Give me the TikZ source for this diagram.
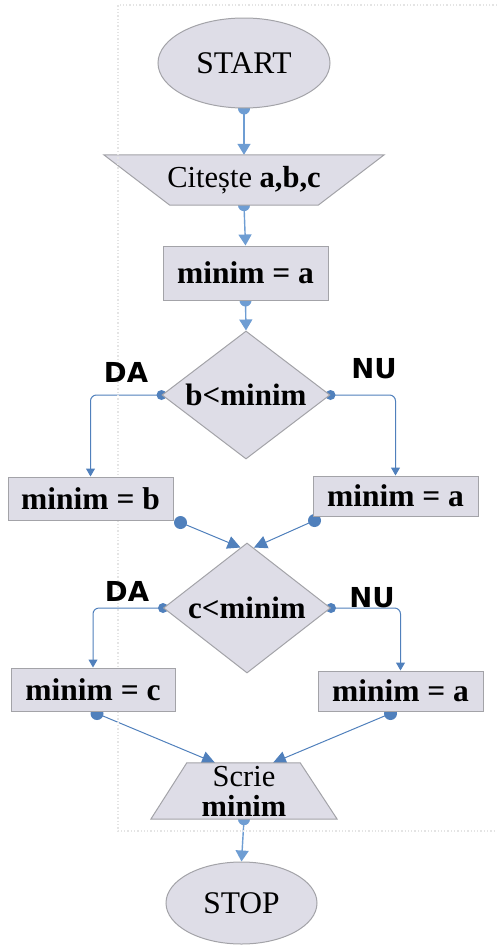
\documentclass[tikz,border=0pt]{standalone}
\usepackage{fontspec}
\setmainfont{Liberation Serif}
\newfontfamily\lblfont{DejaVu Sans}
\usetikzlibrary{shapes.geometric,arrows.meta,calc}
\pgfdeclarelayer{bg}
\pgfdeclarelayer{mid}
\pgfsetlayers{bg,mid,main}
\definecolor{nodefill}{HTML}{DEDDE7}
\definecolor{nodeline}{HTML}{A3A3A8}
\definecolor{conn}{HTML}{6E9DD3}
\definecolor{connside}{HTML}{5080BC}
\definecolor{pageborder}{HTML}{E4E4E4}
\begin{document}
\begin{tikzpicture}[x=1pt,y=-1pt,
  shapebase/.style={draw=nodeline,fill=nodefill,line width=1pt,inner sep=0pt},
  boxnode/.style={shapebase,rectangle,font=\fontsize{31.5}{34}\selectfont\bfseries},
  ovalnode/.style={shapebase,ellipse,font=\fontsize{31.5}{34}\selectfont},
  decnode/.style={shapebase,diamond},
  dectext/.style={inner sep=0pt,font=\fontsize{31}{34}\selectfont\bfseries},
  textonly/.style={inner sep=0pt,font=\fontsize{30.5}{33}\selectfont},
  trapfill/.style={draw=nodeline,fill=nodefill,line width=1pt},
  vconn/.style={draw=conn,line width=1.4pt,-{Triangle[length=11pt,width=13pt]}},
  sideconn/.style={draw=connside,line width=1pt,rounded corners=6pt,-{Triangle[length=8pt,width=9pt]}},
  diagconn/.style={draw=connside,line width=1pt,-{Triangle[length=13pt,width=13pt]}},
  lbl/.style={font=\lblfont\bfseries\fontsize{27.5}{30}\selectfont,inner sep=0pt},
  vdot/.style={fill=conn},
  sdot/.style={fill=connside}
]
\useasboundingbox (0,0) rectangle (497,945);
\draw[pageborder,dotted,line width=1.3pt] (497,5) -- (118,5) -- (118,831) -- (497,831);

% nodes
\node[ovalnode,minimum width=172,minimum height=90] (start) at (244,63) {START};
\node[textonly,minimum width=280,minimum height=50] (cit) at (244,180) {Citește \textbf{a,b,c}};
\node[boxnode,minimum width=165,minimum height=54] (ma1) at (245.5,273) {minim = a};
\node[decnode,minimum width=168,minimum height=128] (d1) at (246,395) {};
\node[dectext] (d1t) at (d1.center) {b<minim};
\node[boxnode,minimum width=165,minimum height=43] (mb) at (90.5,498.5) {minim = b};
\node[boxnode,minimum width=165,minimum height=40] (ma2) at (395.5,496) {minim = a};
\node[decnode,minimum width=167,minimum height=130] (d2) at (247,608) {};
\node[dectext] (d2t) at (d2.center) {c<minim};
\node[boxnode,minimum width=164,minimum height=43] (mc) at (93,689.5) {minim = c};
\node[boxnode,minimum width=165,minimum height=40] (ma3) at (400.5,691) {minim = a};
\node[textonly,minimum width=186,minimum height=56,align=center] (scrie) at (244,791) {Scrie\\[-3pt]\textbf{minim}};
\node[ovalnode,minimum width=151,minimum height=82] (stop) at (241.5,903) {STOP};

% labels
\node[lbl] (da1) at (126,372) {DA};
\node[lbl] (nu1) at (374,369) {NU};
\node[lbl] (da2) at (127,591) {DA};
\node[lbl] (nu2) at (372,598) {NU};

% trapezoid bodies
\begin{pgfonlayer}{mid}
\draw[trapfill] (cit.north west) -- (cit.north east) -- ($(cit.south east)+(-66,0)$) -- ($(cit.south west)+(66,0)$) -- cycle;
\draw[trapfill] ($(scrie.north west)+(36,0)$) -- ($(scrie.north east)+(-37,0)$) -- (scrie.south east) -- (scrie.south west) -- cycle;
\end{pgfonlayer}

% connector helper points
\coordinate (mbdot) at ($(mb.south east)+(7,2)$);
\coordinate (ma2dot) at ($(ma2.south west)+(2,4)$);
\coordinate (d2inL) at ($(d2.north)+(-6.5,5)$);
\coordinate (d2inR) at ($(d2.north)+(7,5)$);
\coordinate (mcdot) at ($(mc.south)+(4,2)$);
\coordinate (ma3dot) at ($(ma3.south)+(-10,2)$);
\coordinate (scL) at ($(scrie.north)+(-29,0)$);
\coordinate (scR) at ($(scrie.north)+(29,0)$);

\begin{pgfonlayer}{bg}
\draw[vconn] (start.south) -- (cit.north);
\fill[vdot] (start.south) circle (6);
\draw[vconn] (cit.south) -- (ma1.north);
\fill[vdot] (cit.south) circle (6);
\draw[vconn] (ma1.south) -- (d1.north);
\fill[vdot] (ma1.south) circle (6);
\draw[sideconn] (d1.west) -| (mb.north);
\fill[sdot] (d1.west) circle (5);
\draw[sideconn] (d1.east) -| (ma2.north);
\fill[sdot] (d1.east) circle (5);
\draw[diagconn] (mbdot) -- (d2inL);
\fill[sdot] (mbdot) circle (6.5);
\draw[diagconn] (ma2dot) -- (d2inR);
\fill[sdot] (ma2dot) circle (6.5);
\draw[sideconn] (d2.west) -| (mc.north);
\fill[sdot] (d2.west) circle (5);
\draw[sideconn] (d2.east) -| (ma3.north);
\fill[sdot] (d2.east) circle (5);
\draw[diagconn] (mcdot) -- (scL);
\fill[sdot] (mcdot) circle (6.5);
\draw[diagconn] (ma3dot) -- (scR);
\fill[sdot] (ma3dot) circle (6.5);
\draw[vconn] (scrie.south) -- (stop.north);
\fill[vdot] (scrie.south) circle (6);
\end{pgfonlayer}
\end{tikzpicture}
\end{document}
